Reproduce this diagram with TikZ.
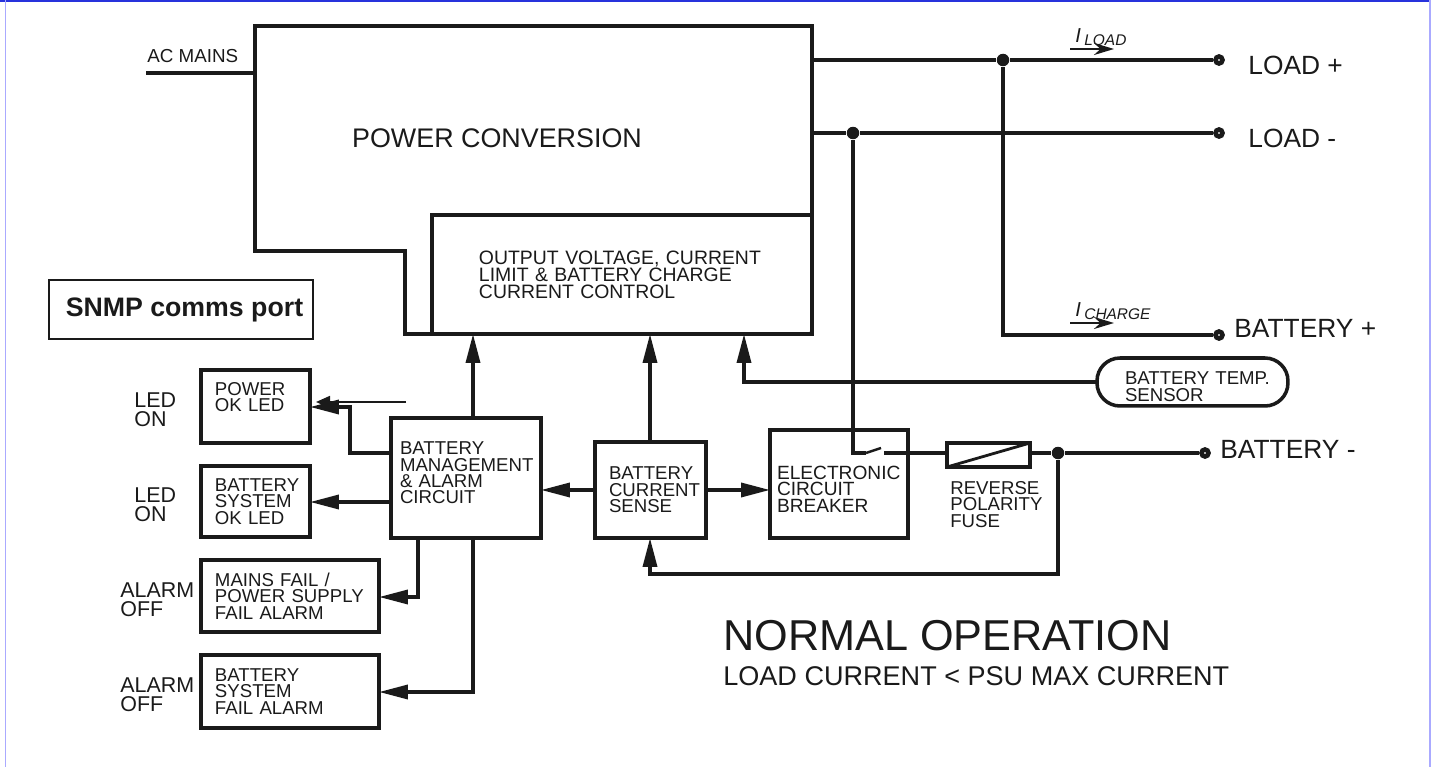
\documentclass[tikz,border=0pt]{standalone}
\usepackage{fontspec}
\setmainfont{Liberation Sans}
\definecolor{inkblack}{RGB}{26,26,26}
\definecolor{edgeblue}{RGB}{40,50,220}
\definecolor{edgelilac}{RGB}{170,170,255}
\usetikzlibrary{arrows.meta,positioning}
\tikzset{
  blockbox/.style={draw=inkblack, line width=2.2pt, text=inkblack, outer sep=0pt, inner ysep=0pt, align=left, anchor=north west, font=\fontsize{10.6}{9.3}\selectfont},
  wire/.style={draw=inkblack, line width=2pt},
  bigtip/.style={wire, -{Triangle[length=0.58cm,width=0.28cm]}},
  joint/.style={circle, fill=inkblack, inner sep=0pt, minimum size=0.25cm},
  terminal/.style={circle, draw=inkblack, fill=white, line width=2.6pt, inner sep=0pt, minimum size=0.14cm},
  sidelabel/.style={anchor=west, align=left, text=inkblack, inner sep=0pt, font=\fontsize{12.2}{10.9}\selectfont},
  portlabel/.style={anchor=west, text=inkblack, inner sep=0pt, font=\fontsize{15}{16}\selectfont},
  currentlabel/.style={anchor=west, text=inkblack, inner sep=0pt, font=\fontsize{11.5}{12}\itshape}
}
\begin{document}
\begin{tikzpicture}[x=0.02cm, y=-0.02cm]
  \useasboundingbox (0,0) rectangle (1431,767);
  % frame edges
  \draw[edgeblue, line width=1.3pt] (0,0.6) -- (1431,0.6);
  \draw[edgelilac, line width=0.9pt] (5.5,0) -- (5.5,767);
  \draw[edgelilac, line width=1.4pt] (1430,0) -- (1430,767);
  % power block
  \node[blockbox, minimum width=7.6cm, minimum height=2.38cm, inner xsep=0.94cm, font=\fontsize{11.05}{9.7}\selectfont, text width=5.72cm] (ctrl) at (432,215) {OUTPUT VOLTAGE, CURRENT\\LIMIT \& BATTERY CHARGE\\CURRENT CONTROL};
  \draw[draw=inkblack, line width=2.2pt, line join=miter] (ctrl.south west) -- (405,334) -- (405,251) -- (255,251) -- (255,26) -- (812,26) -- (ctrl.south east);
  \node[text=inkblack, font=\fontsize{15.3}{16}\selectfont] (power) at (497,138) {POWER CONVERSION};
  \node[anchor=south west, inner sep=0pt, text=inkblack, font=\fontsize{10.7}{12}\selectfont] (mainslabel) at (147,63) {AC MAINS};
  \coordinate (mainsin) at (146,73);
  \draw[wire] (mainsin) -- (255,73);
  % comms port
  \node[draw=inkblack, line width=0.8pt, anchor=north west, minimum width=5.28cm, minimum height=1.18cm, outer sep=0pt, text=inkblack, font=\fontsize{15.2}{16}\bfseries] (snmp) at (49,280) {\hspace*{0.14cm}SNMP comms port};
  % indicators on the left
  \node[blockbox, minimum width=2.18cm, minimum height=1.46cm, inner xsep=0.28cm, text width=1.62cm] (pwrled) at (201,370) {POWER\\OK LED\\[1.6pt]\mbox{}};
  \node[blockbox, minimum width=2.18cm, minimum height=1.42cm, inner xsep=0.28cm, text width=1.62cm] (batled) at (201,466) {BATTERY\\SYSTEM\\OK LED};
  \node[blockbox, minimum width=3.56cm, minimum height=1.44cm, inner xsep=0.28cm, text width=3cm] (mainsalarm) at (201,560) {MAINS FAIL /\\POWER SUPPLY\\FAIL ALARM};
  \node[blockbox, minimum width=3.56cm, minimum height=1.46cm, inner xsep=0.28cm, text width=3cm] (batalarm) at (201,655) {BATTERY\\SYSTEM\\FAIL ALARM};
  \node[sidelabel] (pwrstate) at (134,410) {LED\\ON};
  \node[sidelabel] (batstate) at (134,505) {LED\\ON};
  \node[sidelabel] (mainsstate) at (120,600) {ALARM\\OFF};
  \node[sidelabel] (alarmstate) at (120,695) {ALARM\\OFF};
  % middle row
  \node[blockbox, minimum width=3cm, minimum height=2.4cm, inner xsep=0.18cm, text width=2.64cm] (mgmt) at (391,418) {BATTERY\\MANAGEMENT\\\& ALARM\\CIRCUIT\\[-3.6pt]\mbox{}};
  \node[blockbox, minimum width=2.22cm, minimum height=1.92cm, inner xsep=0.28cm, text width=1.66cm] (sense) at (595,442) {BATTERY\\CURRENT\\SENSE};
  \node[blockbox, minimum width=2.76cm, minimum height=2.16cm, inner xsep=0.14cm, text width=2.48cm, font=\fontsize{10.9}{9.3}\selectfont] (breaker) at (770,430) {\mbox{}\\[4.3pt]ELECTRONIC\\CIRCUIT\\BREAKER};
  \node[draw=inkblack, line width=2.2pt, anchor=north west, minimum width=1.66cm, minimum height=0.48cm, outer sep=0pt] (fuse) at (947,443) {};
  \draw[draw=inkblack, line width=1.6pt] (fuse.south west) -- (fuse.north east);
  \node[anchor=north west, inner sep=0pt, align=left, text=inkblack, font=\fontsize{10.6}{9.3}\selectfont] (fuselabel) at (950,481) {REVERSE\\POLARITY\\FUSE};
  \node[draw=inkblack, line width=2pt, rounded corners=0.46cm, anchor=north west, minimum width=3.82cm, minimum height=0.96cm, inner xsep=0.56cm, inner ysep=0pt, outer sep=0pt, text width=2.7cm, align=left, text=inkblack, font=\fontsize{10.6}{9.3}\selectfont] (sensor) at (1097,358) {\mbox{}\\[3.2pt]\mbox{BATTERY TEMP.}\\SENSOR};
  % outputs
  \node[terminal] (loadplus) at (1219,60) {};
  \node[terminal] (loadminus) at (1219,133) {};
  \node[terminal] (batplus) at (1219,335) {};
  \node[terminal] (batminus) at (1205,453) {};
  \node[joint] (plusjoin) at (1003,60) {};
  \node[joint] (minusjoin) at (853,133) {};
  \node[joint] (fusejoin) at (1058,453) {};
  \draw[wire] (812,60) -- (plusjoin) -- (loadplus);
  \draw[wire] (812,133) -- (minusjoin) -- (loadminus);
  \draw[wire] (plusjoin) -- (1003,335) -- (batplus);
  \node[portlabel] (loadpluslabel) at (1248,65) {LOAD +};
  \node[portlabel] (loadminuslabel) at (1248,138) {LOAD -};
  \node[portlabel] (batpluslabel) at (1234,328) {BATTERY +};
  \node[portlabel] (batminuslabel) at (1220,449) {BATTERY -};
  % current markers
  \node[currentlabel] (iload) at (1075,37) {I\,\raisebox{-2pt}{\fontsize{8.8}{10}\selectfont LOAD}};
  \node[currentlabel] (icharge) at (1075,311) {I\,\raisebox{-2pt}{\fontsize{8.8}{10}\selectfont CHARGE}};
  \coordinate (iloadtail) at (1070,49);
  \coordinate (ichargetail) at (1070,323);
  \draw[wire, line width=1.4pt, -{Stealth[length=0.4cm,width=0.24cm]}] (iloadtail) -- ++(44,0);
  \draw[wire, line width=1.4pt, -{Stealth[length=0.4cm,width=0.24cm]}] (ichargetail) -- ++(44,0);
  % switch and fuse path
  \coordinate (swopen) at (866,453);
  \coordinate (swtip) at (881,448);
  \coordinate (swclose) at (884,453);
  \draw[wire] (minusjoin) -- (853,453) -- (swopen);
  \draw[wire, line width=1.4pt] (swopen) -- (swtip);
  \draw[wire] (swclose) -- (fuse.west |- swclose);
  \draw[wire] (fuse.east |- swclose) -- (fusejoin) -- (batminus);
  \draw[bigtip] (fusejoin) -- (1058,574) -- (650,574) -- (sense.south -| 650,0);
  % arrows up to the control block
  \draw[bigtip] (mgmt.north -| 473,0) -- (ctrl.south -| 473,0);
  \draw[bigtip] (sense.north -| 650,0) -- (ctrl.south -| 650,0);
  \draw[bigtip] (sensor.west) -- (744,382) -- (ctrl.south -| 744,0);
  % arrows in the middle row
  \draw[bigtip] (sense.west) -- (mgmt.east |- sense.west);
  \draw[bigtip] (sense.east) -- (breaker.west |- sense.east);
  % arrows to the indicators
  \coordinate (thintail) at (406,402);
  \draw[wire, line width=1pt, -{Triangle[length=0.28cm,width=0.24cm]}] (thintail) -- (316,402);
  \draw[bigtip] (mgmt.west |- 0,453) -- (350,453) -- (350,407) -- (pwrled.east |- 0,407);
  \draw[bigtip] (mgmt.west |- 0,502) -- (batled.east |- 0,502);
  \draw[bigtip] (mgmt.south -| 418,0) -- (418,597) -- (mainsalarm.east |- 0,597);
  \draw[bigtip] (mgmt.south -| 473,0) -- (473,692) -- (batalarm.east |- 0,692);
  % caption
  \node[anchor=west, inner sep=0pt, text=inkblack, font=\fontsize{24.6}{26}\selectfont] (modetitle) at (723,636) {NORMAL OPERATION};
  \node[anchor=west, inner sep=0pt, text=inkblack, font=\fontsize{15.4}{17}\selectfont] (modenote) at (723,676) {LOAD CURRENT < PSU MAX CURRENT};
\end{tikzpicture}
\end{document}
